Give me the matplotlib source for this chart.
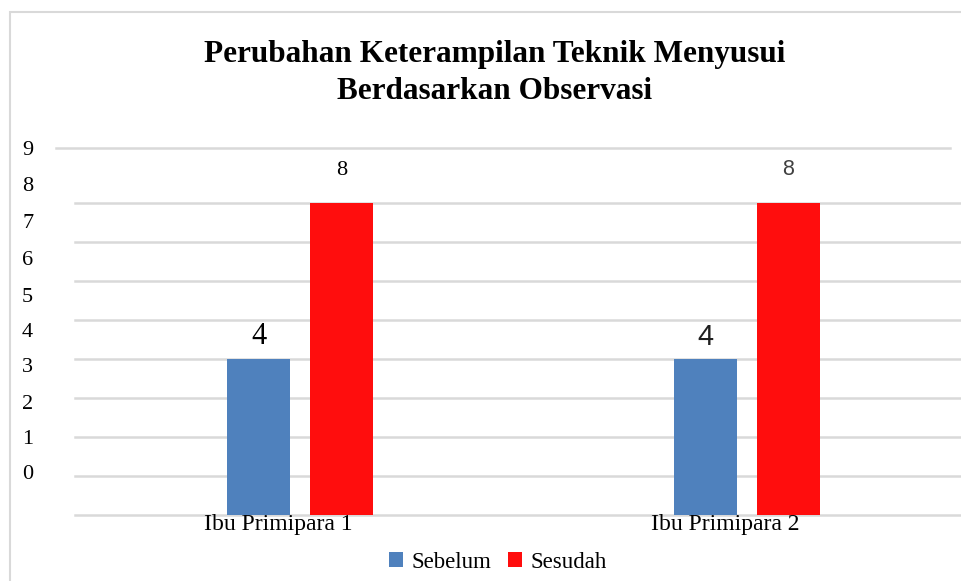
import matplotlib.pyplot as plt
from matplotlib.lines import Line2D
from matplotlib.patches import Rectangle
from matplotlib.transforms import blended_transform_factory
import numpy as np

categories = ["Ibu Primipara 1", "Ibu Primipara 2"]
sebelum = [4, 4]
sesudah = [8, 8]
ytick_labels = ["0", "1", "2", "3", "4", "5", "6", "7", "8", "9"]
# the label column in the picture is not aligned with the gridlines
ytick_pos = [1.03, 1.93, 2.83, 3.78, 4.68, 5.58, 6.53, 7.48, 8.43, 9.35]

COL_BLUE = "#4F81BD"
COL_RED = "#FF0D0D"
COL_GRID = "#D9D9D9"

W, H = 961, 581
fig = plt.figure(figsize=(W / 100, H / 100), dpi=100)
plt.rcParams['font.family'] = ['Liberation Serif', 'DejaVu Serif']

# outer chart border
fig.add_artist(Rectangle((10 / W, -0.1), 1.2, (H - 12) / H + 0.1, transform=fig.transFigure,
                         fill=False, edgecolor="#D9D9D9", linewidth=1.5))

left, right, top, bottom = 75, 961, 148, 515
ax = fig.add_axes([left / W, 1 - bottom / H, (right - left) / W, (bottom - top) / H])
px_unit = 447.0
ax.set_xlim((left - 300) / px_unit, (right - 300) / px_unit)
ymax = (bottom - top) / 39.0
ax.set_ylim(0, ymax)

x = np.arange(len(categories))
bw = 63 / px_unit
off = 41.5 / px_unit
ax.bar(x - off, sebelum, bw, color=COL_BLUE, label="Sebelum", zorder=3)
ax.bar(x + off, sesudah, bw, color=COL_RED, label="Sesudah", zorder=3)

for s in ax.spines.values():
    s.set_visible(False)
for v in range(0, 9):
    ax.axhline(v, color=COL_GRID, linewidth=1.8, zorder=1, clip_on=False)

# y labels as a free column left of the plot
ax.set_yticks([])
ytrans = blended_transform_factory(fig.transFigure, ax.transData)
for pos, lab in zip(ytick_pos, ytick_labels):
    ax.text(22 / W, pos, lab, transform=ytrans, ha="left", va="center", fontsize=16)

ax.set_xticks(x - 22 / px_unit, categories)
ax.tick_params(axis="x", length=0, labelsize=17, pad=-1)

# top line
fig.add_artist(Line2D([56 / W, 950 / W], [1 - top / H] * 2, transform=fig.transFigure,
                      color=COL_GRID, linewidth=1.8))

# data labels
ax.text(x[0] - off, 4 + 0.2, "4", ha="center", va="bottom", fontsize=22)
ax.text(x[0] + off, 8 + 0.6, "8", ha="center", va="bottom", fontsize=16)
ax.text(x[1] - off, 4 + 0.2, "4", ha="center", va="bottom", fontsize=21,
        family="Liberation Sans", color="#202020")
ax.text(x[1] + off, 8 + 0.6, "8", ha="center", va="bottom", fontsize=15.5,
        family="Liberation Sans", color="#404040")

fig.text(495 / W, 1 - 73 / H, "Perubahan Keterampilan Teknik Menyusui\nBerdasarkan Observasi",
         ha="center", va="center", fontsize=22.5, fontweight="bold", linespacing=1.35)

fig.legend(loc="center", bbox_to_anchor=(498 / W, 1 - 562 / H), ncol=2, frameon=False,
           fontsize=16.5, handlelength=0.6, handleheight=0.6, handletextpad=0.4,
           columnspacing=0.7)

fig.savefig("out.png", dpi=100)
